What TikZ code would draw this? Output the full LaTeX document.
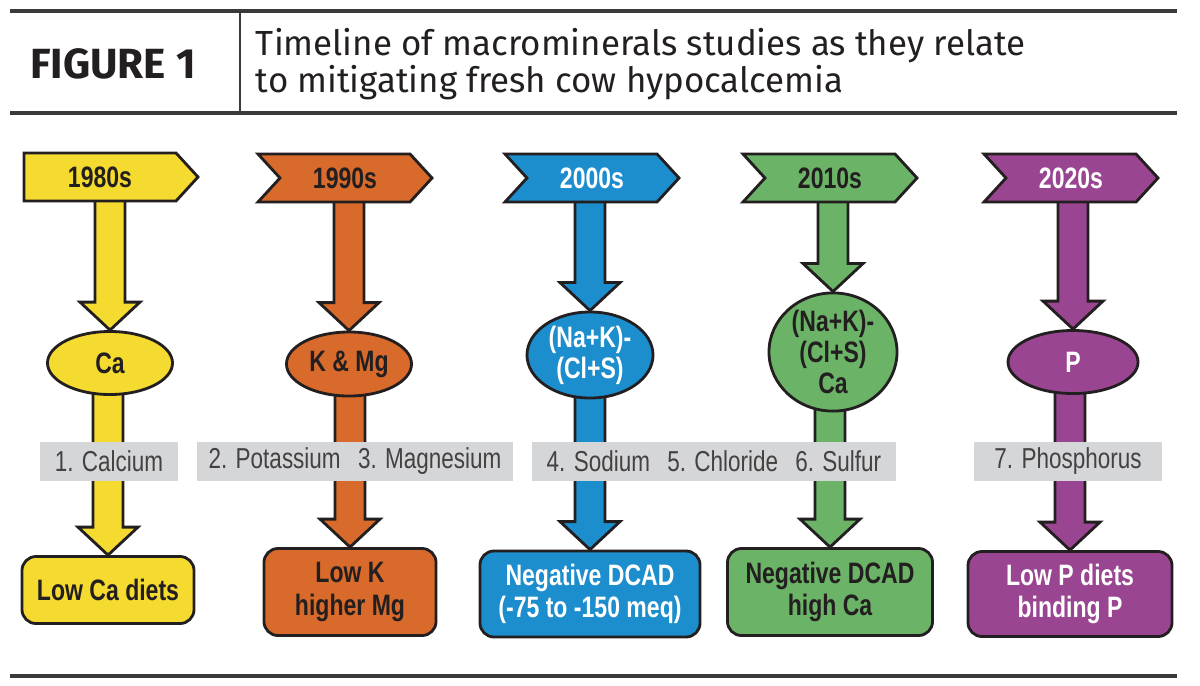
\documentclass[tikz,border=0pt]{standalone}
\usepackage{fontspec}
\setmainfont{Liberation Sans}
\newfontfamily\condfont[FakeStretch=0.78]{Liberation Sans}
\newfontfamily\headfont{Fira Sans}
\usepackage{tikz}
\usetikzlibrary{positioning, calc, shapes.geometric, shapes.symbols, backgrounds}

\definecolor{inkC}{HTML}{231F20}
\definecolor{ruleC}{HTML}{3A3A3A}
\definecolor{barC}{HTML}{D5D6D8}
\definecolor{yellowC}{HTML}{F5DA30}
\definecolor{orangeC}{HTML}{D86B2B}
\definecolor{blueC}{HTML}{1D8ECD}
\definecolor{greenC}{HTML}{6BB467}
\definecolor{purpleC}{HTML}{9A4592}

% block arrow from one node down to the top of another
\newcommand{\blockarrow}[3]{%
  \draw[blockarrow, fill=#3]
    ($(#1.center -| #2.north)+(-15,0)$) -- ($(#2.north)+(-15,-28)$)
    -- ($(#2.north)+(-30,-28)$) -- (#2.north) -- ($(#2.north)+(30,-28)$)
    -- ($(#2.north)+(15,-28)$) -- ($(#1.center -| #2.north)+(15,0)$) -- cycle;}

\begin{document}
\begin{tikzpicture}[
            x=0.025cm, y=-0.025cm,
            banner/.style={draw=inkC, line width=2pt, signal, signal to=east, signal pointer angle=95,
                minimum width=4.35cm, minimum height=1.2cm, inner sep=0pt,
                font=\condfont\bfseries\fontsize{21}{24}\selectfont},
            mineral/.style={draw=inkC, line width=2pt, ellipse, inner sep=0pt, align=center,
                font=\condfont\bfseries\fontsize{21}{22}\selectfont},
            result/.style={draw=inkC, line width=2pt, rounded corners=0.35cm, inner sep=0pt, align=center,
                font=\condfont\bfseries\fontsize{21}{23}\selectfont},
            study/.style={fill=barC, text=inkC!85, minimum height=0.975cm, inner sep=0pt,
                font=\condfont\fontsize{20.5}{22}\selectfont},
            blockarrow/.style={draw=inkC, line width=2pt, line join=miter},
            rule/.style={draw=ruleC, line width=2.2pt},
        ]
        \useasboundingbox (0,0) rectangle (1200,685);

        % Draw the heading
        \draw[rule] (10,11) -- (1177,11);
        \draw[rule] (10,113) -- (1177,113);
        \draw[ruleC, line width=1pt] (240,11) -- (240,113);
        \node[font=\headfont\bfseries\fontsize{30}{36}\selectfont, text=inkC] (fig) at (113,64) {FIGURE 1};
        \node[anchor=west, align=left, font=\headfont\fontsize{24.8}{26.5}\selectfont, text=inkC] (title) at (251,64)
            {Timeline of macrominerals studies as they relate\\to mitigating fresh cow hypocalcemia};

        % Draw the decade banners
        \node[banner, fill=yellowC, text=inkC] (D-1980) at (100,177) {1980s};
        \foreach \yr / \x / \clr / \tclr in {1990/345/orangeC/inkC, 2000/592/blueC/white, 2010/830/greenC/inkC, 2020/1071/purpleC/white}
        \node[banner, signal from=west, fill=\clr, text=\tclr] (D-\yr) at (\x,178) {\yr s};

        % Draw the mineral nodes
        \node[mineral, fill=yellowC, text=inkC, minimum width=3.125cm, minimum height=1.575cm] (E-1980) at (110,363) {Ca};
        \node[mineral, fill=orangeC, text=inkC, minimum width=3.125cm, minimum height=1.6cm] (E-1990) at (349,364) {K \& Mg};
        \node[mineral, fill=blueC, text=white, minimum width=3.15cm, minimum height=2.15cm] (E-2000) at (590,355) {(Na+K)-\\(Cl+S)};
        \node[mineral, fill=greenC, text=inkC, minimum width=3.2cm, minimum height=2.9cm] (E-2010) at (833,352) {(Na+K)-\\(Cl+S)\\Ca};
        \node[mineral, fill=purpleC, text=white, minimum width=3.25cm, minimum height=1.575cm] (E-2020) at (1073,362) {P};

        % Draw the diet boxes
        \node[result, fill=yellowC, text=inkC, minimum width=4.3cm, minimum height=1.675cm] (B-1980) at (108,590) {Low Ca diets};
        \node[result, fill=orangeC, text=inkC, minimum width=4.3cm, minimum height=2.175cm] (B-1990) at (350,592) {Low K\\higher Mg};
        \node[result, fill=blueC, text=white, minimum width=5.5cm, minimum height=2.15cm] (B-2000) at (590,594) {Negative DCAD\\(-75 to -150 meq)};
        \node[result, fill=greenC, text=inkC, minimum width=5.125cm, minimum height=2.175cm] (B-2010) at (830,592) {Negative DCAD\\high Ca};
        \node[result, fill=purpleC, text=white, minimum width=5.1cm, minimum height=2.125cm] (B-2020) at (1070,594) {Low P diets\\binding P};

        % Connect banner, mineral and diet of every decade
        \begin{scope}[on background layer]
            \fill[white] (0,0) rectangle (1200,685);
            \foreach \yr / \clr in {1980/yellowC, 1990/orangeC, 2000/blueC, 2010/greenC, 2020/purpleC} {
                \blockarrow{D-\yr}{E-\yr}{\clr}
                \blockarrow{E-\yr}{B-\yr}{\clr}
            }
        \end{scope}

        % Draw the study labels across the arrows
        \node[study, minimum width=3.45cm] (S-1) at (109,461) {1. Calcium};
        \node[study, minimum width=7.9cm] (S-2) at (355,461) {2. Potassium\hspace{0.6em}3. Magnesium};
        \node[study, minimum width=9.1cm] (S-3) at (714,461) {4. Sodium\hspace{0.6em}5. Chloride\hspace{0.6em}6. Sulfur};
        \node[study, minimum width=4.675cm] (S-4) at (1068,461) {7. Phosphorus};

        % Bottom rule
        \draw[rule] (10,676) -- (1177,676);
    \end{tikzpicture}
\end{document}
